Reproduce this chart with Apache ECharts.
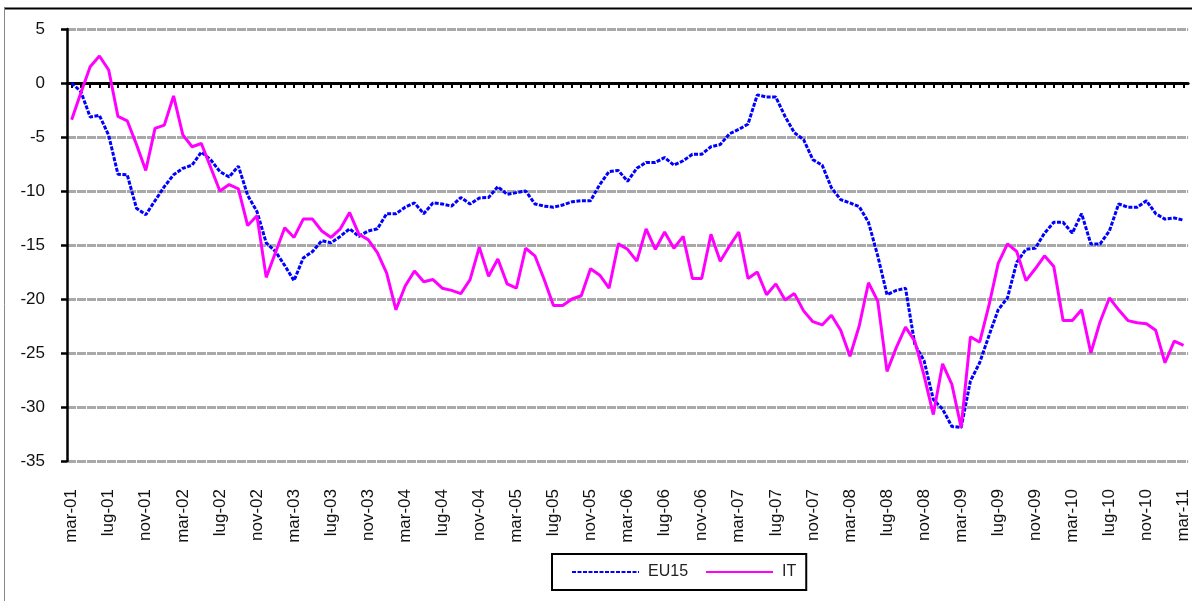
<!DOCTYPE html>
<html lang="it">
<head>
    <meta charset="UTF-8">
    <title>EU15 - IT</title>
    <script src="https://cdn.jsdelivr.net/npm/echarts@6/dist/echarts.min.js"></script>
    <style>
        html, body { margin: 0; padding: 0; background: #fff; }
    </style>
</head>
<body>
<div id="main" style="width: 1192px;height:601px;"></div>
<script type="text/javascript">
    // mesi in italiano, da mar-01 a mar-11 (121 mesi)
    var mesi = ['gen', 'feb', 'mar', 'apr', 'mag', 'giu', 'lug', 'ago', 'set', 'ott', 'nov', 'dic'];
    var categorie = [];
    for (var k = 0; k < 121; k++) {
        var m = (2 + k) % 12;
        var a = 1 + Math.floor((2 + k) / 12);
        categorie.push(mesi[m] + '-' + (a < 10 ? '0' + a : '' + a));
    }

    var yTicks = [-35, -30, -25, -20, -15, -10, -5, 0, 5];

    var eu15 = [
        0, -0.8, -3.15, -3.0, -4.85, -8.45, -8.5, -11.6, -12.2, -10.9,
        -9.6, -8.5, -7.9, -7.6, -6.4, -7.1, -8.2, -8.7, -7.7, -10.4,
        -11.9, -14.8, -15.6, -16.9, -18.3, -16.2, -15.6, -14.6, -14.8, -14.2,
        -13.5, -14.2, -13.7, -13.5, -12.1, -12.1, -11.5, -11.1, -12.1, -11.1,
        -11.2, -11.4, -10.6, -11.2, -10.65, -10.6, -9.6, -10.3, -10.15, -10.0,
        -11.2, -11.4, -11.5, -11.3, -11.0, -10.9, -10.9, -9.4, -8.2, -8.1,
        -9.1, -7.9, -7.35, -7.35, -6.9, -7.6, -7.2, -6.6, -6.6, -5.9,
        -5.7, -4.7, -4.3, -3.8, -1.1, -1.3, -1.3, -3.1, -4.6, -5.25,
        -7.1, -7.6, -9.7, -10.8, -11.1, -11.45, -12.9, -16.0, -19.6, -19.2,
        -19.0, -24.2, -25.7, -29.3, -30.2, -31.8, -31.9, -27.6, -25.9, -23.4,
        -21.0, -19.9, -16.6, -15.4, -15.3, -13.9, -12.9, -12.9, -13.9, -12.1,
        -14.9, -14.9, -13.7, -11.2, -11.5, -11.5, -10.9, -12.1, -12.6, -12.5,
        -12.7
    ];

    var it = [
        -3.4, -0.9, 1.5, 2.5, 1.2, -3.1, -3.5, -5.7, -8.1, -4.2,
        -3.9, -1.2, -4.8, -5.9, -5.6, -7.8, -10.0, -9.4, -9.8, -13.2,
        -12.3, -18.0, -15.7, -13.4, -14.3, -12.6, -12.6, -13.7, -14.3, -13.5,
        -12.0, -14.0, -14.5, -15.7, -17.6, -21.0, -18.8, -17.4, -18.4, -18.2,
        -19.0, -19.2, -19.5, -18.2, -15.2, -17.9, -16.3, -18.6, -19.0, -15.3,
        -16.0, -18.2, -20.6, -20.6, -20.0, -19.7, -17.2, -17.8, -19.0, -14.9,
        -15.4, -16.5, -13.5, -15.4, -13.8, -15.3, -14.2, -18.1, -18.1, -14.0,
        -16.5, -15.1, -13.8, -18.1, -17.5, -19.6, -18.6, -20.1, -19.5, -21.1,
        -22.1, -22.4, -21.5, -22.9, -25.3, -22.5, -18.5, -20.2, -26.7, -24.5,
        -22.6, -23.9, -27.1, -30.7, -26.0, -27.9, -31.9, -23.5, -24.0, -20.6,
        -16.7, -14.9, -15.6, -18.3, -17.2, -16.0, -17.0, -22.0, -22.0, -21.0,
        -25.0, -22.1, -19.9, -21.0, -22.0, -22.2, -22.3, -22.9, -25.9, -23.9,
        -24.3
    ];

    var font = "'Liberation Sans', Arial, sans-serif";
    var myChart = echarts.init(document.getElementById('main'));

    myChart.setOption({
        animation: false,
        textStyle: { fontFamily: font },
        graphic: [
            // cornice del grafico
            { type: 'line', shape: { x1: 4, y1: 8.5, x2: 1192, y2: 8.5 }, style: { stroke: '#000', lineWidth: 2 } },
            { type: 'line', shape: { x1: 4.5, y1: 8, x2: 4.5, y2: 601 }, style: { stroke: '#888', lineWidth: 1 } }
        ],
        grid: { left: 67, right: 2, top: 29, bottom: 140, containLabel: false },
        legend: {
            left: 552,
            top: 554,
            padding: [10, 10, 10, 19],
            borderColor: '#000',
            borderWidth: 2,
            itemWidth: 67,
            itemHeight: 14,
            itemGap: 17,
            itemStyle: { opacity: 0 },
            textStyle: { fontSize: 16, color: '#222', fontFamily: font, padding: [0, 0, 0, 4] },
            data: ['EU15', 'IT']
        },
        xAxis: [
            {
                // etichette in basso
                type: 'category',
                data: categorie,
                boundaryGap: true,
                position: 'bottom',
                axisLine: { show: false, onZero: false },
                axisTick: { show: false },
                splitLine: { show: false },
                axisLabel: {
                    interval: 3,
                    rotate: 90,
                    margin: 28,
                    fontSize: 17,
                    color: '#111',
                    fontFamily: font
                }
            },
            {
                // linea dello zero con tacche
                type: 'category',
                data: categorie,
                boundaryGap: true,
                position: 'bottom',
                axisLine: { show: true, onZero: true, lineStyle: { color: '#000', width: 3 } },
                axisTick: { show: true, interval: 0, alignWithLabel: true, length: 5, lineStyle: { color: '#000', width: 2 } },
                axisLabel: { show: false },
                splitLine: { show: false }
            }
        ],
        yAxis: {
            type: 'value',
            min: yTicks[0],
            max: yTicks[yTicks.length - 1],
            interval: 5,
            axisLine: { show: true, lineStyle: { color: '#000', width: 2.5 } },
            axisTick: { show: true, length: 6, lineStyle: { color: '#000', width: 2.5 } },
            axisLabel: { fontSize: 17, color: '#111', margin: 22, fontFamily: font },
            splitLine: { show: true, lineStyle: { color: '#a9a9a9', width: 3, type: [9, 1] } }
        },
        series: [
            {
                name: 'EU15',
                type: 'line',
                data: eu15,
                symbol: 'none',
                lineStyle: { color: '#0000ff', width: 3, type: [4, 1.5] },
                itemStyle: { color: '#0000ff' }
            },
            {
                name: 'IT',
                type: 'line',
                data: it,
                symbol: 'none',
                lineStyle: { color: '#ff00ff', width: 3 },
                itemStyle: { color: '#ff00ff' }
            }
        ]
    });
</script>
</body>
</html>
